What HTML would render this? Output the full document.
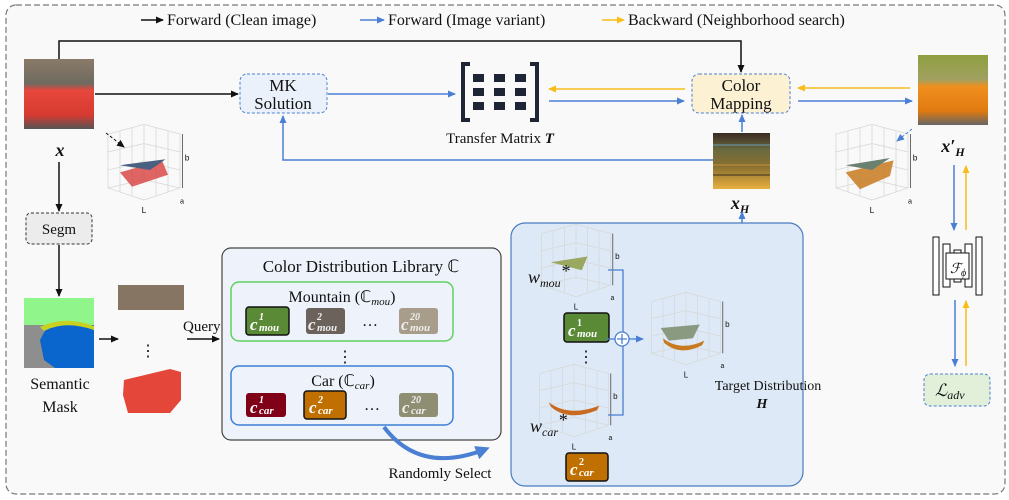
<!DOCTYPE html>
<html><head><meta charset="utf-8"><style>
body{margin:0;background:#fff}
svg{display:block}
text{font-family:"Liberation Serif",serif;fill:#111}
.it{font-style:italic}
</style></head><body>
<svg width="1009" height="500" viewBox="0 0 1009 500" xmlns="http://www.w3.org/2000/svg">
<defs>
<marker id="ak" markerWidth="8" markerHeight="8" refX="7" refY="4" orient="auto" markerUnits="userSpaceOnUse"><path d="M0,0.5 L8,4 L0,7.5z" fill="#111"/></marker>
<marker id="ab" markerWidth="8" markerHeight="8" refX="7" refY="4" orient="auto" markerUnits="userSpaceOnUse"><path d="M0,0.5 L8,4 L0,7.5z" fill="#4a7fd4"/></marker>
<marker id="ay" markerWidth="8" markerHeight="8" refX="7" refY="4" orient="auto" markerUnits="userSpaceOnUse"><path d="M0,0.5 L8,4 L0,7.5z" fill="#f7bd1a"/></marker>
<marker id="abig" markerWidth="14" markerHeight="14" refX="10" refY="7" orient="auto" markerUnits="userSpaceOnUse"><path d="M0,0 L14,7 L0,14z" fill="#4a7fd4"/></marker>
<linearGradient id="car" x1="0" y1="0" x2="0" y2="1"><stop offset="0" stop-color="#8a7a68"/><stop offset="0.35" stop-color="#6e6a60"/><stop offset="0.45" stop-color="#e8473c"/><stop offset="0.8" stop-color="#d63a30"/><stop offset="1" stop-color="#555"/></linearGradient>
<linearGradient id="carH" x1="0" y1="0" x2="0" y2="1"><stop offset="0" stop-color="#8fa040"/><stop offset="0.35" stop-color="#a0a060"/><stop offset="0.45" stop-color="#f09020"/><stop offset="0.8" stop-color="#e07a10"/><stop offset="1" stop-color="#666"/></linearGradient>
<linearGradient id="xh" x1="0" y1="0" x2="0" y2="1"><stop offset="0" stop-color="#3a2a20"/><stop offset="0.3" stop-color="#6a6a40"/><stop offset="0.6" stop-color="#8a7030"/><stop offset="1" stop-color="#e8b040"/></linearGradient>
<g id="plot"><g stroke="#d8d8d8" stroke-width="0.7" fill="none"><path d="M10,10 L40,2 L70,10 L70,55 L40,65 L10,55z"/><path d="M10,55 L40,48 L70,55 M40,2 L40,48 M20,8 L20,58 M30,5 L30,61 M50,5 L50,61 M60,8 L60,58 M10,25 L40,18 L70,25 M10,40 L40,33 L70,40"/></g><path d="M72,10 V55" stroke="#333" stroke-width="0.6"/><text x="74" y="32" font-size="7" style="font-family:'Liberation Sans',sans-serif">b</text><text x="38" y="76" font-size="7" style="font-family:'Liberation Sans',sans-serif">L</text><text x="70" y="68" font-size="6" style="font-family:'Liberation Sans',sans-serif">a</text></g>
</defs>
<rect x="0" y="0" width="1009" height="500" fill="#fff"/>
<rect x="6" y="5" width="999" height="489" rx="10" fill="#f9f9f9" stroke="#777" stroke-dasharray="6,3" stroke-width="1.2"/>
<!-- legend -->
<line x1="141" y1="20" x2="163" y2="20" stroke="#111" stroke-width="1.5" marker-end="url(#ak)"/>
<text x="167" y="25" font-size="16">Forward (Clean image)</text>
<line x1="360" y1="20" x2="384" y2="20" stroke="#4a7fd4" stroke-width="1.5" marker-end="url(#ab)"/>
<text x="388" y="25" font-size="16">Forward (Image variant)</text>
<line x1="602" y1="20" x2="624" y2="20" stroke="#f7bd1a" stroke-width="1.5" marker-end="url(#ay)"/>
<text x="628" y="25" font-size="16">Backward (Neighborhood search)</text>
<!-- top black -->
<path d="M59,59 V41 H741 V72" fill="none" stroke="#111" stroke-width="1.5" marker-end="url(#ak)"/>
<rect x="24" y="59" width="70" height="70" fill="url(#car)"/>
<text x="60" y="156" font-size="18" font-weight="bold" class="it" text-anchor="middle">x</text>
<line x1="95" y1="94" x2="238" y2="94" stroke="#111" stroke-width="1.5" marker-end="url(#ak)"/>
<rect x="240" y="74" width="87" height="39" rx="7" fill="#eaf1fb" stroke="#4a7fd4" stroke-dasharray="3,2"/>
<text x="283" y="91" font-size="17" text-anchor="middle">MK</text>
<text x="283" y="109" font-size="17" text-anchor="middle">Solution</text>
<line x1="328" y1="94" x2="455" y2="94" stroke="#4a7fd4" stroke-width="1.5" marker-end="url(#ab)"/>
<!-- matrix -->
<path d="M470,64 H463 V120 H470 M530,64 H537 V120 H530" fill="none" stroke="#1e2535" stroke-width="4"/>
<g fill="#1e2535"><rect x="473" y="74" width="11" height="8"/><rect x="494" y="74" width="11" height="8"/><rect x="515" y="74" width="11" height="8"/><rect x="473" y="88" width="11" height="8"/><rect x="494" y="88" width="11" height="8"/><rect x="515" y="88" width="11" height="8"/><rect x="473" y="102" width="11" height="8"/><rect x="494" y="102" width="11" height="8"/><rect x="515" y="102" width="11" height="8"/></g>
<text x="500" y="143" font-size="15" text-anchor="middle">Transfer Matrix <tspan font-weight="bold" class="it">T</tspan></text>
<line x1="685" y1="89" x2="549" y2="89" stroke="#f7bd1a" stroke-width="1.5" marker-end="url(#ay)"/>
<line x1="549" y1="101" x2="684" y2="101" stroke="#4a7fd4" stroke-width="1.5" marker-end="url(#ab)"/>
<rect x="692" y="74" width="98" height="39" rx="7" fill="#fdf1d3" stroke="#4a7fd4" stroke-dasharray="3,2"/>
<text x="741" y="91" font-size="17" text-anchor="middle">Color</text>
<text x="741" y="109" font-size="17" text-anchor="middle">Mapping</text>
<line x1="910" y1="88" x2="798" y2="88" stroke="#f7bd1a" stroke-width="1.5" marker-end="url(#ay)"/>
<line x1="798" y1="101" x2="912" y2="101" stroke="#4a7fd4" stroke-width="1.5" marker-end="url(#ab)"/>
<rect x="918" y="55" width="70" height="70" fill="url(#carH)"/>
<text x="953" y="152" font-size="18" font-weight="bold" class="it" text-anchor="middle">x′<tspan font-size="12" dy="4">H</tspan></text>
<!-- feedback -->
<path d="M713,160 H283 V116" fill="none" stroke="#4a7fd4" stroke-width="1.5" marker-end="url(#ab)"/>
<rect x="713" y="133" width="57" height="56" fill="url(#xh)"/>
<g stroke-width="1"><line x1="713" y1="145" x2="770" y2="145" stroke="#6aa0b0"/><line x1="713" y1="165" x2="770" y2="165" stroke="#c09040"/><line x1="713" y1="175" x2="770" y2="175" stroke="#3a3020"/></g>
<text x="740" y="209" font-size="18" font-weight="bold" class="it" text-anchor="middle">x<tspan font-size="12" dy="4">H</tspan></text>
<line x1="742" y1="132" x2="742" y2="115" stroke="#4a7fd4" stroke-width="1.5" marker-end="url(#ab)"/>
<line x1="742" y1="224" x2="742" y2="212" stroke="#4a7fd4" stroke-width="1.5" marker-end="url(#ab)"/>
<!-- plots -->
<g transform="translate(96,122) scale(1.2)"><use href="#plot"/><path d="M20,42 L55,32 L60,44 L30,54z" fill="#d84040" opacity="0.8"/><path d="M20,36 L58,31 L45,40z" fill="#4a6080"/></g>
<line x1="106" y1="133" x2="124" y2="147" stroke="#111" stroke-dasharray="3,2" marker-end="url(#ak)"/>
<g transform="translate(824,122) scale(1.2)"><use href="#plot"/><path d="M18,42 L58,32 L55,45 L30,56z" fill="#c87a20" opacity="0.85"/><path d="M18,36 L55,30 L40,40z" fill="#6a8070"/></g>
<line x1="912" y1="129" x2="897" y2="141" stroke="#4a7fd4" stroke-dasharray="3,2" marker-end="url(#ab)"/>
<!-- segm -->
<line x1="59" y1="162" x2="59" y2="211" stroke="#111" stroke-width="1.5" marker-end="url(#ak)"/>
<rect x="26" y="213" width="66" height="31" rx="5" fill="#ececec" stroke="#333" stroke-dasharray="3,2"/>
<text x="59" y="234" font-size="15" text-anchor="middle">Segm</text>
<line x1="59" y1="245" x2="59" y2="296" stroke="#111" stroke-width="1.5" marker-end="url(#ak)"/>
<rect x="24" y="298" width="70" height="70" fill="#0a66cc"/>
<rect x="24" y="298" width="70" height="27" fill="#90f58a"/>
<path d="M24,325 H48 L40,340 L44,360 L55,368 H24z" fill="#8e8e8e"/>
<path d="M40,327 Q65,315 94,326 V330 Q65,320 44,331z" fill="#c8d020"/>
<text x="60" y="389" font-size="16" text-anchor="middle">Semantic</text>
<text x="60" y="412" font-size="16" text-anchor="middle">Mask</text>
<line x1="99" y1="339" x2="118" y2="339" stroke="#111" stroke-width="1.5" marker-end="url(#ak)"/>
<rect x="118" y="285" width="66" height="25" fill="#857562"/>
<text x="148" y="356" font-size="16" text-anchor="middle">⋮</text>
<path d="M124,380 L170,369 L181,372 L181,400 L170,413 L128,413 L123,395z" fill="#e5463a"/>
<text x="183" y="331" font-size="15">Query</text>
<line x1="187" y1="339" x2="219" y2="339" stroke="#111" stroke-width="1.5" marker-end="url(#ak)"/>
<!-- library -->
<rect x="222" y="248" width="279" height="192" rx="9" fill="#eef3fb" stroke="#444" stroke-width="1.2"/>
<text x="361" y="272" font-size="17" text-anchor="middle">Color Distribution Library ℂ</text>
<rect x="231" y="282" width="222" height="59" rx="8" fill="none" stroke="#5ed15e" stroke-width="1.5"/>
<text x="342" y="302" font-size="16" text-anchor="middle">Mountain (ℂ<tspan font-size="11" dy="3" class="it">mou</tspan><tspan dy="-3">)</tspan></text>
<rect x="246" y="307" width="43" height="28" rx="3" fill="#5a8a35" stroke="#111" stroke-width="1.5"/>
<rect x="306" y="308" width="39" height="26" rx="3" fill="#6b625c"/>
<rect x="399" y="308" width="39" height="26" rx="3" fill="#a89c8a"/>
<g font-weight="bold" class="it">
<text x="250" y="330" font-size="17" style="fill:#fff">c</text><text x="259" y="320" font-size="10" style="fill:#fff">1</text><text x="259" y="331" font-size="11" style="fill:#fff">mou</text>
<text x="308" y="330" font-size="17" style="fill:#eee">c</text><text x="317" y="320" font-size="10" style="fill:#eee">2</text><text x="317" y="331" font-size="11" style="fill:#eee">mou</text>
<text x="401" y="330" font-size="17" style="fill:#eee">c</text><text x="410" y="320" font-size="10" style="fill:#eee">20</text><text x="410" y="331" font-size="11" style="fill:#eee">mou</text>
</g>
<text x="370" y="326" font-size="16" text-anchor="middle">…</text>
<text x="345" y="362" font-size="16" text-anchor="middle">⋮</text>
<rect x="231" y="366" width="222" height="59" rx="8" fill="none" stroke="#3a7fd5" stroke-width="1.5"/>
<text x="343" y="386" font-size="16" text-anchor="middle">Car (ℂ<tspan font-size="11" dy="3" class="it">car</tspan><tspan dy="-3">)</tspan></text>
<rect x="246" y="393" width="40" height="24" rx="3" fill="#800018"/>
<rect x="304" y="391" width="42" height="28" rx="3" fill="#c07000" stroke="#111" stroke-width="1.5"/>
<rect x="399" y="393" width="39" height="24" rx="3" fill="#8e8e72"/>
<g font-weight="bold" class="it">
<text x="250" y="413" font-size="17" style="fill:#fff">c</text><text x="259" y="403" font-size="10" style="fill:#fff">1</text><text x="259" y="414" font-size="11" style="fill:#fff">car</text>
<text x="309" y="413" font-size="17" style="fill:#fff">c</text><text x="318" y="403" font-size="10" style="fill:#fff">2</text><text x="318" y="414" font-size="11" style="fill:#fff">car</text>
<text x="402" y="413" font-size="17" style="fill:#eee">c</text><text x="411" y="403" font-size="10" style="fill:#eee">20</text><text x="411" y="414" font-size="11" style="fill:#eee">car</text>
</g>
<text x="372" y="410" font-size="16" text-anchor="middle">…</text>
<!-- blue box -->
<rect x="511" y="223" width="292" height="263" rx="14" fill="#dde9f6" stroke="#4a7cc2" stroke-width="1.2"/>
<path d="M384,427 Q420,475 486,449" fill="none" stroke="#4a7fd4" stroke-width="4" marker-end="url(#abig)"/>
<text x="440" y="478" font-size="15" text-anchor="middle">Randomly Select</text>
<g transform="translate(530,222) scale(1.15)"><use href="#plot"/><path d="M18,35 L50,30 L45,42z" fill="#9aa860"/></g>
<text x="528" y="283" font-size="18" class="it">w<tspan font-size="12" dy="4">mou</tspan><tspan dy="-10">*</tspan></text>
<rect x="564" y="313" width="45" height="29" rx="3" fill="#5a8a35" stroke="#111" stroke-width="1.5"/>
<text x="568" y="336" font-size="17" font-weight="bold" class="it" style="fill:#fff">c</text><text x="577" y="326" font-size="10" font-weight="bold" style="fill:#fff">1</text><text x="577" y="337" font-size="11" font-weight="bold" class="it" style="fill:#fff">mou</text>
<text x="586" y="362" font-size="16" text-anchor="middle">⋮</text>
<g transform="translate(528,362) scale(1.15)"><use href="#plot"/><path d="M18,35 Q35,48 62,38 L60,42 Q35,52 20,39z" fill="#c86a20"/></g>
<text x="530" y="432" font-size="18" class="it">w<tspan font-size="12" dy="4">car</tspan><tspan dy="-10">*</tspan></text>
<rect x="566" y="453" width="42" height="28" rx="3" fill="#c07000" stroke="#111" stroke-width="1.5"/>
<text x="570" y="475" font-size="17" font-weight="bold" class="it" style="fill:#fff">c</text><text x="579" y="465" font-size="10" font-weight="bold" style="fill:#fff">2</text><text x="579" y="476" font-size="11" font-weight="bold" class="it" style="fill:#fff">car</text>
<path d="M608,270 H623 V415 H608" fill="none" stroke="#4a7fd4" stroke-width="1.3"/>
<line x1="606" y1="339" x2="615" y2="339" stroke="#4a7fd4" stroke-width="1.3"/>
<circle cx="622" cy="339" r="7" fill="#fff" stroke="#4a7fd4" stroke-width="1.3"/>
<path d="M617,339 H627 M622,334 V344" stroke="#4a7fd4" stroke-width="1.3"/>
<line x1="629" y1="339" x2="643" y2="339" stroke="#4a7fd4" stroke-width="1.3" marker-end="url(#ab)"/>
<g transform="translate(640,290) scale(1.15)"><use href="#plot"/><path d="M18,33 L52,30 L46,42 L25,44z" fill="#8a9a80"/><path d="M20,42 Q35,54 56,44 L54,48 Q35,58 21,46z" fill="#c87a20"/></g>
<text x="768" y="390" font-size="14" text-anchor="middle">Target Distribution</text>
<text x="762" y="408" font-size="14" font-weight="bold" class="it" text-anchor="middle">H</text>
<!-- right network -->
<line x1="954" y1="165" x2="954" y2="230" stroke="#4a7fd4" stroke-width="1.5" marker-end="url(#ab)"/>
<line x1="966" y1="230" x2="966" y2="166" stroke="#f7bd1a" stroke-width="1.5" marker-end="url(#ay)"/>
<g fill="#fff" stroke="#111" stroke-width="1"><rect x="933" y="237" width="6" height="58"/><rect x="976" y="237" width="6" height="58"/><rect x="943" y="244" width="7" height="43"/><rect x="965" y="244" width="7" height="43"/><rect x="954" y="250" width="7" height="32"/><rect x="946" y="253" width="23" height="26"/></g>
<text x="950" y="273" font-size="14" class="it">ℱ<tspan font-size="10" dy="3">ϕ</tspan></text>
<line x1="955" y1="300" x2="955" y2="366" stroke="#4a7fd4" stroke-width="1.5" marker-end="url(#ab)"/>
<line x1="966" y1="366" x2="966" y2="301" stroke="#f7bd1a" stroke-width="1.5" marker-end="url(#ay)"/>
<rect x="924" y="374" width="66" height="32" rx="6" fill="#e2efd9" stroke="#4a7fd4" stroke-dasharray="3,2"/>
<text x="935" y="396" font-size="17" class="it">ℒ<tspan font-size="12" dy="3">adv</tspan></text>
</svg>
</body></html>
